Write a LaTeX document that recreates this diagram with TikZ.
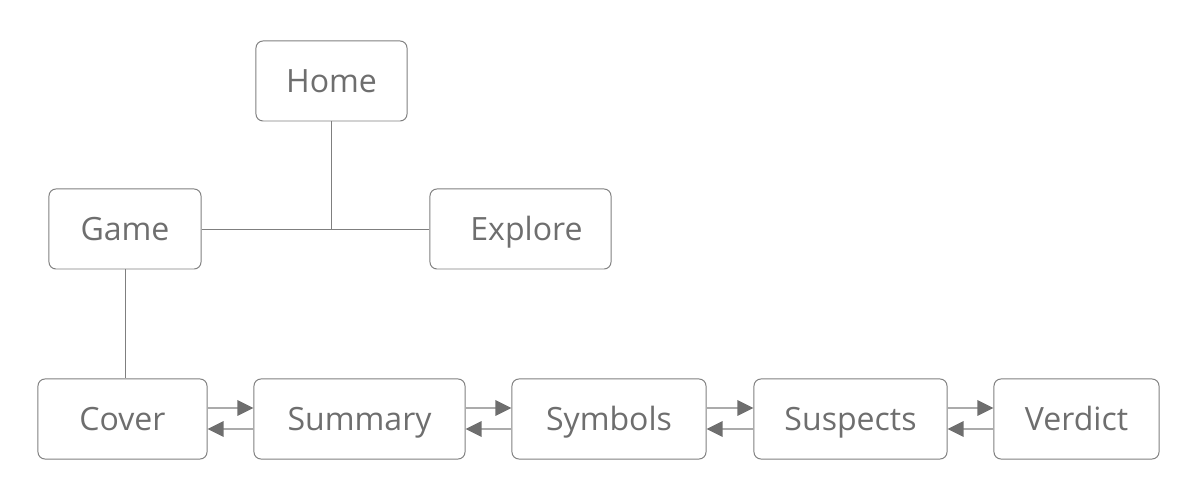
\documentclass[tikz,border=0pt]{standalone}
\usepackage{fontspec}
\setmainfont{Open Sans}
\usepackage{tikz}
\usetikzlibrary{arrows.meta}

\definecolor{boxline}{HTML}{7F7F7F}
\definecolor{boxtext}{HTML}{6E6E6E}
\definecolor{linkline}{HTML}{ABABAB}
\definecolor{tipfill}{HTML}{6E6E6E}

\tikzset{
	page/.style={draw=boxline,line width=0.7pt,rounded corners=5pt,
		minimum height=2cm,text=boxtext,inner sep=0pt,
		text height=16.3pt,text depth=0pt,
		font=\fontsize{22.8}{27}\selectfont},
	tree/.style={draw=boxline,line width=0.7pt},
	nav/.style={draw=linkline,line width=1.4pt,
		-{Triangle[length=11.5pt,width=11pt,color=tipfill]}}
}

\begin{document}
\begin{tikzpicture}[x=0.025cm,y=-0.025cm]
	\useasboundingbox (0,0) rectangle (1203,503);
	\node[page,minimum width=3.775cm] (home)     at (331.5,81)  {Home};
	\node[page,minimum width=3.8cm]   (game)     at (125,229)   {Game};
	\node[page,minimum width=4.525cm] (explore)  at (520.5,229) {\hspace{0.3cm}Explore};
	\node[page,minimum width=4.225cm] (cover)    at (122.5,419) {Cover};
	\node[page,minimum width=5.275cm] (summary)  at (359.5,419) {Summary};
	\node[page,minimum width=4.85cm]  (symbols)  at (609,419)   {Symbols};
	\node[page,minimum width=4.825cm] (suspects) at (850.5,419) {Suspects};
	\node[page,minimum width=4.125cm] (verdict)  at (1076.5,419) {Verdict};

	\coordinate (hub) at (home.south |- game.east);
	\draw[tree] (home) -- (hub);
	\draw[tree] (game) -- (explore);
	\draw[tree] (game.south) -- (game.south |- cover.north);

	\foreach \a/\b in {cover/summary,summary/symbols,symbols/suspects,suspects/verdict}{
		\draw[nav] ([yshift=0.275cm]\a.east) -- ([yshift=0.275cm]\b.west);
		\draw[nav] ([yshift=-0.25cm]\b.west) -- ([yshift=-0.25cm]\a.east);
	}
\end{tikzpicture}
\end{document}
